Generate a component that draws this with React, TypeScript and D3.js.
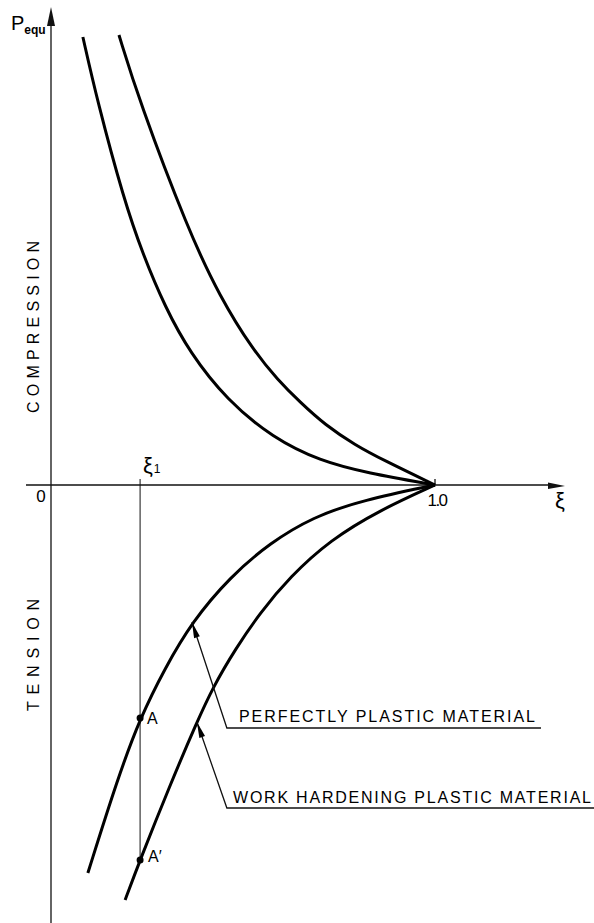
import React from 'react';
import * as d3 from 'd3';

// curves: [xi, p_equ]
const compressionPerfect: [number, number][] = [
  [0.083, 4.48], [0.12, 3.85], [0.19, 2.85], [0.24, 2.3], [0.297, 1.78], [0.362, 1.32],
  [0.458, 0.85], [0.578, 0.47], [0.701, 0.24], [0.823, 0.12], [1.0, 0],
];
const compressionHardening: [number, number][] = [
  [0.177, 4.5], [0.229, 3.85], [0.357, 2.55], [0.44, 1.88], [0.526, 1.35], [0.591, 1.05],
  [0.648, 0.83], [0.714, 0.6], [0.792, 0.4], [0.865, 0.25], [1.0, 0],
];
const tensionPerfect: [number, number][] = [
  [1.0, 0], [0.8125, -0.15], [0.682, -0.32], [0.57, -0.58], [0.466, -0.92],
  [0.367, -1.37], [0.297, -1.83], [0.232, -2.33], [0.174, -2.93], [0.096, -3.88],
];
const tensionHardening: [number, number][] = [
  [1.0, 0], [0.857, -0.25], [0.727, -0.55], [0.622, -0.92], [0.544, -1.28],
  [0.482, -1.63], [0.422, -2.02], [0.38, -2.37], [0.31, -3.0], [0.232, -3.75], [0.193, -4.15],
];

const xi1 = 0.232;
const pointA = -2.33;
const pointA2 = -3.75;

// label leaders: tip on the curve, elbow, end of underline
const leaderPerfect: [number, number][] = [[0.367, -1.37], [0.458, -2.43], [1.276, -2.43]];
const leaderHardening: [number, number][] = [[0.38, -2.37], [0.458, -3.23], [1.42, -3.23]];
const labelPerfect = 'PERFECTLY PLASTIC  MATERIAL';
const labelHardening = 'WORK HARDENING PLASTIC MATERIAL';

const W = 594;
const H = 923;
const font = 'Liberation Sans, Arial, sans-serif';

export default function App() {
  const x = d3.scaleLinear().domain([0, 1]).range([51, 435]);
  const y = d3.scaleLinear().domain([0, 1]).range([485, 385]);

  const line = d3.line<[number, number]>()
    .x(d => x(d[0]))
    .y(d => y(d[1]))
    .curve(d3.curveBasis);

  const poly = d3.line<[number, number]>().x(d => x(d[0])).y(d => y(d[1]));

  // small filled arrowhead, tip at a, pointing away from b
  const head = (a: [number, number], b: [number, number], len: number, half: number) => {
    const ax = x(a[0]), ay = y(a[1]), bx = x(b[0]), by = y(b[1]);
    const ang = Math.atan2(by - ay, bx - ax);
    const c = Math.cos(ang), s = Math.sin(ang);
    const px = ax + c * len, py = ay + s * len;
    return `M${ax},${ay}L${px - s * half},${py + c * half}L${px + s * half},${py - c * half}Z`;
  };

  const x0 = x(0), y0 = y(0);

  return (
    <svg width={W} height={H} style={{ position: 'absolute', left: 0, top: 0, background: '#fff' }}>
      {/* axes */}
      <line x1={x0} x2={x0} y1={20} y2={H} stroke="#111" strokeWidth={1.3} />
      <path d={`M${x0},7L${x0 - 4},26L${x0 + 4},26Z`} fill="#111" />
      <line x1={26} x2={552} y1={y0} y2={y0} stroke="#111" strokeWidth={1.6} />
      <path d={`M565,${y0 + 1}L548,${y0 - 2.5}L548,${y0 + 4}Z`} fill="#111" />
      <line x1={x(1)} x2={x(1)} y1={y0 - 6} y2={y0} stroke="#111" strokeWidth={1.3} />

      {/* xi1 vertical */}
      <line x1={x(xi1)} x2={x(xi1)} y1={y0 - 6} y2={y(pointA2)} stroke="#111" strokeWidth={1} />

      {/* curves */}
      {[compressionPerfect, compressionHardening, tensionPerfect, tensionHardening].map((c, i) => (
        <path key={i} d={line(c) || ''} fill="none" stroke="#000" strokeWidth={3} />
      ))}

      {/* points */}
      <circle cx={x(xi1)} cy={y(pointA)} r={3.5} fill="#000" />
      <circle cx={x(xi1)} cy={y(pointA2)} r={3.5} fill="#000" />
      <text x={x(xi1) + 7} y={y(pointA) + 6} fontFamily={font} fontSize={16}>A</text>
      <text x={x(xi1) + 8} y={y(pointA2) + 2} fontFamily={font} fontSize={16}>A′</text>

      {/* leaders */}
      <path d={poly(leaderPerfect) || ''} fill="none" stroke="#111" strokeWidth={1.3} />
      <path d={head(leaderPerfect[0], leaderPerfect[1], 16, 3)} fill="#000" />
      <path d={poly(leaderHardening) || ''} fill="none" stroke="#111" strokeWidth={1.3} />
      <path d={head(leaderHardening[0], leaderHardening[1], 16, 3)} fill="#000" />
      <text x={239} y={722} fontFamily={font} fontSize={16} textLength={296} lengthAdjust="spacing">{labelPerfect}</text>
      <text x={233} y={803} fontFamily={font} fontSize={16} textLength={358} lengthAdjust="spacing">{labelHardening}</text>

      {/* axis labels */}
      <text x={41} y={502} fontFamily={font} fontSize={17} textAnchor="middle">0</text>
      <text x={437} y={506} fontFamily={font} fontSize={17} textAnchor="middle" letterSpacing={-1.5}>1.0</text>
      <text x={143} y={473} fontFamily={font} fontSize={22}>ξ<tspan fontSize={12} dx={1}>1</tspan></text>
      <text x={555} y={508} fontFamily={font} fontSize={22}>ξ</text>
      <text x={11} y={30} fontFamily={font} fontSize={20}>P<tspan fontSize={12} dy={4} fontWeight="bold">equ</tspan></text>

      <text transform="translate(39,327) rotate(-90)" fontFamily={font} fontSize={16} textAnchor="middle"
        textLength={172} lengthAdjust="spacing">COMPRESSION</text>
      <text transform="translate(39,655) rotate(-90)" fontFamily={font} fontSize={16} textAnchor="middle"
        textLength={112} lengthAdjust="spacing">TENSION</text>
    </svg>
  );
}
